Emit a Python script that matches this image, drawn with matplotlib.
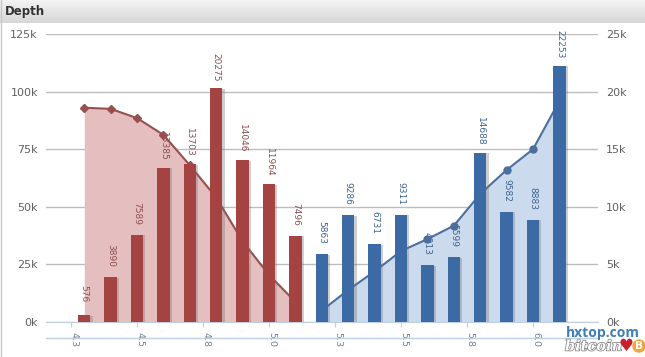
import matplotlib
matplotlib.use("Agg")
import matplotlib.patheffects as pe
import matplotlib.pyplot as plt
import numpy as np
from matplotlib.lines import Line2D
from matplotlib.patches import Circle
from matplotlib.transforms import ScaledTranslation

W, H = 645, 357
LEFT, RIGHT, TOP, BOTTOM = 46, 598, 34, 322
# bars read on the right axis, which runs 0-25k against 0-125k on the left
RIGHT_SCALE = 5

ask_x = [4.3, 4.4, 4.5, 4.6, 4.7, 4.8, 4.9, 5.0, 5.1]
ask_bars = [576, 3890, 7589, 13385, 13703, 20275, 14046, 11964, 7496]
ask_depth = [93000, 92500, 88500, 81200, 68000, 54000, 35000, 20400, 8700]

bid_x = [5.2, 5.3, 5.4, 5.5, 5.6, 5.7, 5.8, 5.9, 6.0, 6.1]
bid_bars = [5863, 9286, 6731, 9311, 4913, 5599, 14688, 9582, 8883, 22253]
bid_depth = [5000, 13900, 22000, 30800, 36000, 41800, 55600, 66000, 75000, 96000]

x_ticks = [4.25, 4.5, 4.75, 5.0, 5.25, 5.5, 5.75, 6.0]
x_labels = ["4.3", "4.5", "4.8", "5.0", "5.3", "5.5", "5.8", "6.0"]
left_ticks = [0, 25000, 50000, 75000, 100000, 125000]
left_labels = ["0k", "25k", "50k", "75k", "100k", "125k"]
right_ticks = [0, 5000, 10000, 15000, 20000, 25000]
right_labels = ["0k", "5k", "10k", "15k", "20k", "25k"]

RED_BAR, RED_LINE, RED_AREA, RED_TEXT = "#a54343", "#974f4f", "#e5bfbf", "#8c4f4f"
BLUE_BAR, BLUE_LINE, BLUE_AREA, BLUE_TEXT = "#3c6aa5", "#4a6f9e", "#cbdaec", "#3f648f"
AXIS = "#c0d0e0"
PX = 72 / 100


def draw_side(ax, xs, bars, depth, bar_color, line_color, area_color, text_color, marker, ms):
    ax.fill_between(xs, 0, depth, color=area_color, lw=0, zorder=2)
    ax.plot(xs, depth, color=line_color, lw=1.5, marker=marker, ms=ms, zorder=4)
    heights = np.array(bars) * RIGHT_SCALE
    shadow = [pe.SimplePatchShadow(offset=(1.5, -0.5), shadow_rgbFace="#777777", alpha=0.35), pe.Normal()]
    ax.bar(xs, heights, width=0.047, color=bar_color, zorder=5, path_effects=shadow)
    for x, h, v in zip(xs, heights, bars):
        ax.annotate(str(v), (x, h), xytext=(0, 21.5 * PX), textcoords="offset points",
                    rotation=270, ha="center", va="center", fontsize=6.5,
                    color=text_color, zorder=3, annotation_clip=False)


def main() -> None:
    fig = plt.figure(figsize=(W / 100, H / 100), dpi=100, facecolor="white")

    # grey title bar
    head = fig.add_axes([0, 1 - 23 / H, 1, 23 / H])
    head.imshow(np.linspace(0.95, 0.84, 23).reshape(-1, 1), cmap="gray", vmin=0, vmax=1, aspect="auto")
    head.axis("off")
    fig.text(5 / W, 1 - 12 / H, "Depth", fontsize=8.5, fontweight="bold", color="#333333", va="center")
    fig.add_artist(Line2D([0.5 / W, 0.5 / W], [0, 1], color="#c8c8c8", lw=1))

    ax = fig.add_axes([LEFT / W, 1 - BOTTOM / H, (RIGHT - LEFT) / W, (BOTTOM - TOP) / H])
    ax.set_xlim(4.155, 6.246)
    ax.set_ylim(0, 125000)
    for spine in ax.spines.values():
        spine.set_visible(False)
    ax.spines["bottom"].set_visible(True)
    ax.spines["bottom"].set_color(AXIS)

    ax.set_yticks(left_ticks, left_labels)
    ax.tick_params(axis="y", length=0, pad=5.8, labelsize=8, labelcolor="#606060")
    ax.grid(axis="y", color="#bdbdbd", lw=1)
    ax.set_axisbelow(True)

    ax.set_xticks(x_ticks, x_labels, rotation=270, fontsize=6.8, color="#70808f")
    ax.tick_params(axis="x", length=3.6, color=AXIS, pad=3.6)
    for lab in ax.get_xticklabels():
        lab.set_transform(lab.get_transform() + ScaledTranslation(3 / 100, 0, fig.dpi_scale_trans))
    ax.add_line(Line2D([0, 1], [-16 / 288, -16 / 288], transform=ax.transAxes, color=AXIS, lw=1, clip_on=False))

    right = ax.secondary_yaxis("right", functions=(lambda v: v / RIGHT_SCALE, lambda v: v * RIGHT_SCALE))
    right.set_yticks(right_ticks, right_labels)
    right.tick_params(length=0, pad=5.8, labelsize=8, labelcolor="#606060")
    right.spines["right"].set_visible(False)

    draw_side(ax, ask_x, ask_bars, ask_depth, RED_BAR, RED_LINE, RED_AREA, RED_TEXT, "D", 3.6)
    draw_side(ax, bid_x, bid_bars, bid_depth, BLUE_BAR, BLUE_LINE, BLUE_AREA, BLUE_TEXT, "o", 5)

    # watermark in the lower right corner
    fig.text(566 / W, 1 - 333 / H, "hxtop.com", fontsize=10, fontweight="bold", color="#3f7fb8",
             family="Open Sans", va="center", zorder=10)
    fig.text(565 / W, 1 - 346.5 / H, "bitcoin", fontsize=10.5, style="italic", fontweight="bold", color="white",
             family="DejaVu Serif", va="center", zorder=10,
             path_effects=[pe.withStroke(linewidth=1, foreground="#777777")])
    fig.text(626 / W, 1 - 346 / H, "\u2665", fontsize=12, color="#c8202c", ha="center", va="center", zorder=10)
    fig.add_artist(Circle((639, H - 346), 6, transform=None, color="#f2a33a", zorder=10))
    fig.text(639 / W, 1 - 346 / H, "B", fontsize=7.5, fontweight="bold", color="white", ha="center", va="center", zorder=11)

    fig.savefig("out.png", dpi=100)


if __name__ == "__main__":
    main()
